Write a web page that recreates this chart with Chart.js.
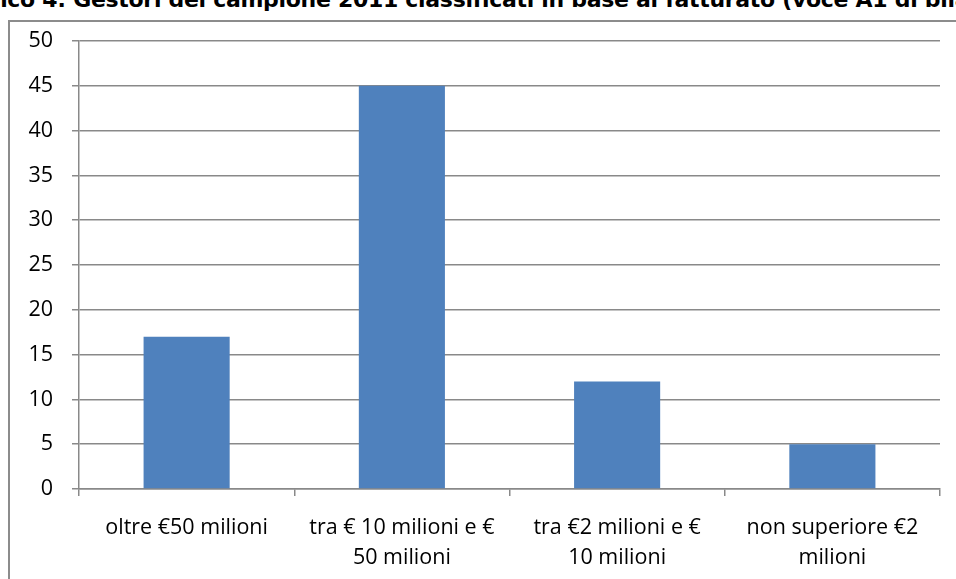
<!DOCTYPE html>
<html>
<head>
<meta charset="utf-8">
<script src="https://cdn.jsdelivr.net/npm/chart.js@4.4.1/dist/chart.umd.min.js"></script>
<style>
  html, body { margin: 0; padding: 0; background: #fff; overflow: hidden; }
  #page { position: relative; width: 956px; height: 579px; overflow: hidden; }
  #frame {
    position: absolute; left: 8px; top: 20px; width: 1000px; height: 600px;
    border-left: 2px solid #8c8c8c; border-top: 2px solid #8c8c8c;
  }
  #title {
    position: absolute; top: -11px; white-space: nowrap; line-height: 22px;
    font-family: "DejaVu Sans", sans-serif; font-weight: bold; font-size: 22px;
    letter-spacing: -0.3px; color: #000;
  }
  #wrap { position: absolute; left: 0; top: 0; width: 956px; height: 579px; }
</style>
</head>
<body>
<div id="page">
  <div id="frame"></div>
  <div id="title"><span id="lead">Graf</span>ico 4: Gestori del campione 2011 classificati in base al fatturato (voce A1 di bilancio)</div>
  <div id="wrap"><canvas id="barChart" width="956" height="579"></canvas></div>
</div>
<script>
// Gestori per classe di fatturato
const classLabels = [
    "oltre €50 milioni",
    ["tra € 10 milioni e €", "50 milioni"],
    ["tra €2 milioni e €", "10 milioni"],
    ["non superiore €2", "milioni"]
];
const gestoriCount = [17, 45, 12, 5];
const yMax  = 50;
const yStep = 5;

// shift the title so it starts mid-word, like a cropped page
const titleEl = document.getElementById("title");
titleEl.style.left = (-document.getElementById("lead").offsetWidth) + "px";

const gridGray = "#898989";
const labelFont = { family: "'Open Sans', sans-serif", size: 21.5, lineHeight: 1.4 };

new Chart(document.getElementById("barChart"), {
    type: "bar",
    data: {
        labels: classLabels,
        datasets: [{
            data: gestoriCount,
            backgroundColor: "#4f81bd",
            categoryPercentage: 0.4,
            barPercentage: 1
        }]
    },
    options: {
        responsive: false,
        animation: false,
        layout: { padding: { left: 0, right: 16, top: 41, bottom: 0 } },
        plugins: { legend: { display: false }, tooltip: { enabled: false } },
        scales: {
            x: {
                grid: { drawOnChartArea: false, drawTicks: true, tickLength: 7, offset: true, color: gridGray, lineWidth: 1.5 },
                border: { color: gridGray, width: 1.5 },
                ticks: { color: "#000", font: labelFont, padding: 17, maxRotation: 0, autoSkip: false },
                afterFit: scale => { scale.height = 90; }
            },
            y: {
                min: 0,
                max: yMax,
                grid: { color: gridGray, lineWidth: 1.5, tickLength: 7 },
                border: { color: gridGray, width: 1.5 },
                ticks: { stepSize: yStep, color: "#000", font: labelFont, padding: 19 },
                afterFit: scale => { scale.width = 79; }
            }
        }
    }
});
</script>
</body>
</html>
